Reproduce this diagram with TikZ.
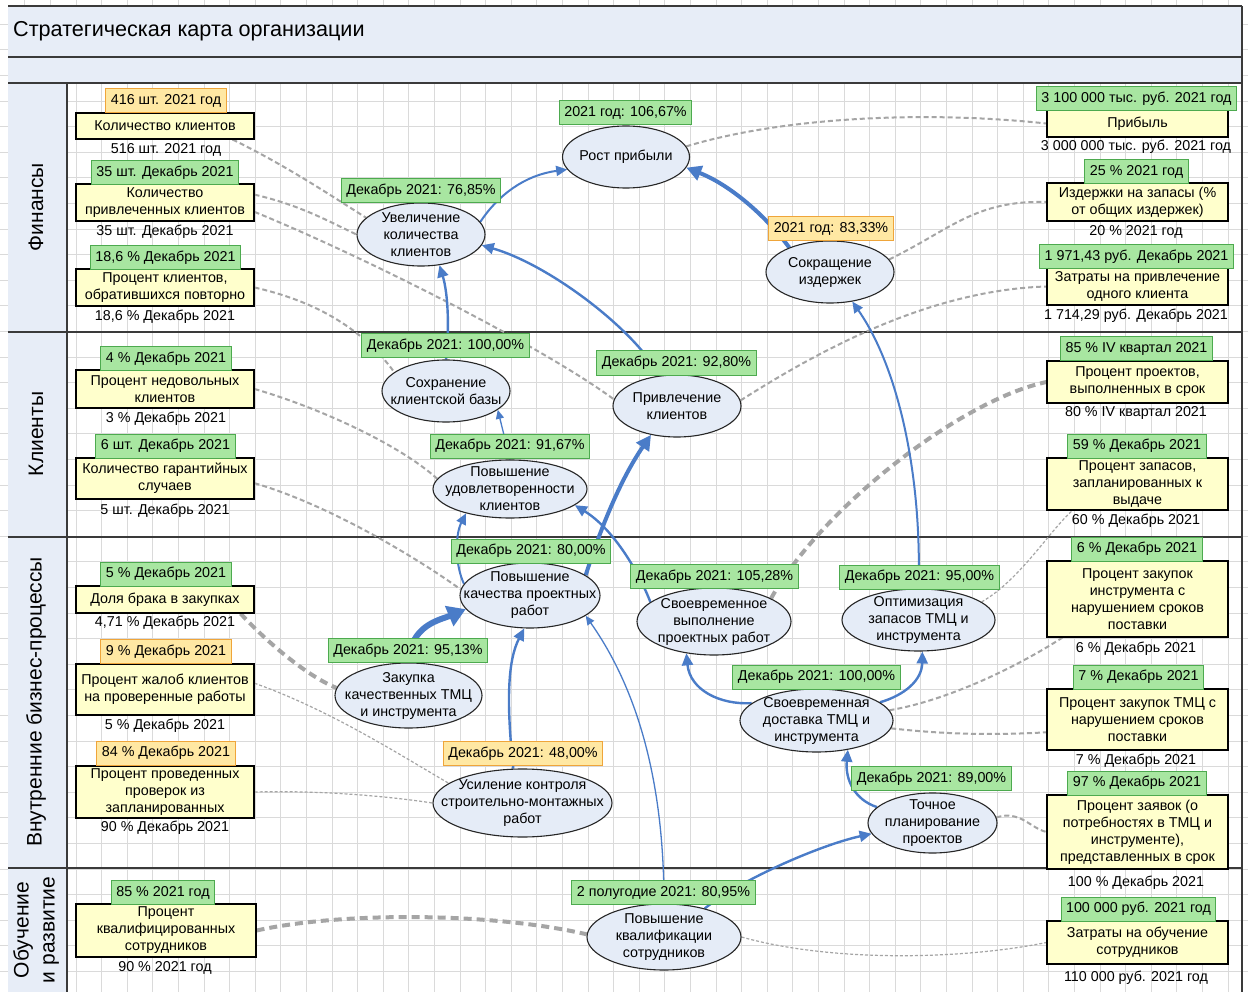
\documentclass[tikz,border=0pt]{standalone}
\usepackage{fontspec}
\setmainfont{Liberation Sans}
\usetikzlibrary{arrows.meta,shapes.geometric}
\definecolor{gridc}{HTML}{DADADA}
\definecolor{headfill}{HTML}{E7EDF7}
\definecolor{kpifill}{HTML}{FFFFCC}
\definecolor{tgfill}{HTML}{A8E6A1}
\definecolor{tgdraw}{HTML}{4DAA4F}
\definecolor{tofill}{HTML}{FFE8A3}
\definecolor{todraw}{HTML}{EFA53A}
\definecolor{goalfill}{HTML}{E5ECF7}
\definecolor{arrowc}{HTML}{4A7CC8}
\definecolor{dashc}{HTML}{A5A5A5}
\definecolor{linec}{HTML}{3A3A3A}
\newcommand\fs{\fontsize{14.3}{17}\selectfont}
\newcommand\fstitle{\fontsize{21.6}{25}\selectfont}
\newcommand\fslane{\fontsize{21}{26}\selectfont}
\pgfdeclarelayer{gridl}
\pgfdeclarelayer{links}
\pgfsetlayers{gridl,links,main}
\begin{document}
\begin{tikzpicture}[x=1pt,y=-1pt,
  kpi/.style={draw=black, line width=1.1pt, fill=kpifill, align=center, inner sep=0pt, font=\fs, minimum width=178pt},
  kpir/.style={kpi, minimum width=181pt},
  gtag/.style={draw=tgdraw, fill=tgfill, line width=1pt, inner xsep=5pt, inner ysep=0pt, minimum height=24pt, font=\fs},
  otag/.style={gtag, draw=todraw, fill=tofill},
  goal/.style={ellipse, draw=black!85, fill=goalfill, line width=1.1pt, inner sep=0pt},
  gtext/.style={align=center, font=\fs, inner sep=0pt},
  val/.style={font=\fs, inner sep=0pt},
  arr/.style={draw=arrowc, line width=2.4pt, -{Triangle[length=12pt,width=11pt]}},
  arrmid/.style={draw=arrowc, line width=2pt, -{Triangle[length=11pt,width=10pt]}},
  arrthin/.style={draw=arrowc, line width=1.3pt, -{Triangle[length=9pt,width=8pt]}},
  arrthick/.style={draw=arrowc, line width=4pt, -{Triangle[length=15pt,width=15pt]}},
  arrxthick/.style={draw=arrowc, line width=6pt, -{Triangle[length=18pt,width=21pt]}},
  lnk/.style={draw=dashc, line width=2pt, dash pattern=on 5pt off 3pt},
  lnkthick/.style={draw=dashc, line width=4pt, dash pattern=on 8pt off 5pt},
  lnkthin/.style={draw=dashc, line width=1.2pt, dash pattern=on 3pt off 2pt},
  lanelabel/.style={rotate=90, font=\fslane, align=center, inner sep=0pt},
  frameline/.style={draw=linec, line width=1.5pt},
  gridline/.style={draw=gridc, line width=0.8pt}
]
\useasboundingbox (0,0) rectangle (1248,992);
\begin{pgfonlayer}{gridl}
\fill[white] (0,0) rectangle (1248,992);
\foreach \i in {-2,...,45} \draw[gridline] ({76+25.6*\i},0) -- ({76+25.6*\i},992);
\foreach \i in {-3,...,36} \draw[gridline] (0,{75.4+25.6*\i}) -- (1248,{75.4+25.6*\i});
\fill[headfill] (8,6) rectangle (1242,83);
\fill[headfill] (8,83) rectangle (67,992);
\draw[frameline] (8,6) -- (1242,6);
\draw[frameline] (8,57) -- (1242,57);
\draw[frameline] (8,83) -- (1242,83);
\draw[frameline] (8,332) -- (1242,332);
\draw[frameline] (8,537) -- (1242,537);
\draw[frameline] (8,868) -- (1242,868);
\draw[frameline] (67,83) -- (67,992);
\draw[frameline] (1242,6) -- (1242,992);
\end{pgfonlayer}

% title and lanes
\node[anchor=west, font=\fstitle, inner sep=0pt] (title) at (13,31) {Стратегическая карта организации};
\node[lanelabel] (l1) at (36,207) {Финансы};
\node[lanelabel] (l2) at (36,434) {Клиенты};
\node[lanelabel] (l3) at (36,702) {Внутренние бизнес-процессы};
\node[lanelabel] (l4) at (36,930) {Обучение\\и развитие};

% left KPI boxes
\node[kpi, minimum height=26pt] (k1) at (165,126) {Количество клиентов};
\node[otag] (t1) at (166,101) {416 шт. 2021 год};
\node[val] (v1) at (166,150) {516 шт. 2021 год};
\node[kpi, minimum height=37pt] (k2) at (165,202.5) {Количество\\привлеченных клиентов};
\node[gtag] (t2) at (165,172.5) {35 шт. Декабрь 2021};
\node[val] (v2) at (165,232) {35 шт. Декабрь 2021};
\node[kpi, minimum height=37pt] (k3) at (165,287.5) {Процент клиентов,\\обратившихся повторно};
\node[gtag] (t3) at (165.5,257.5) {18,6 \% Декабрь 2021};
\node[val] (v3) at (165,317) {18,6 \% Декабрь 2021};
\node[kpi, minimum height=38pt] (k4) at (165,389) {Процент недовольных\\клиентов};
\node[gtag] (t4) at (166,358.5) {4 \% Декабрь 2021};
\node[val] (v4) at (166,419) {3 \% Декабрь 2021};
\node[kpi, minimum height=41pt] (k5) at (165,478.5) {Количество гарантийных\\случаев};
\node[gtag] (t5) at (165.5,446) {6 шт. Декабрь 2021};
\node[val] (v5) at (165,511) {5 шт. Декабрь 2021};
\node[kpi, minimum height=27pt] (k6) at (165,599.5) {Доля брака в закупках};
\node[gtag] (t6) at (166,574) {5 \% Декабрь 2021};
\node[val] (v6) at (165,623) {4,71 \% Декабрь 2021};
\node[kpi, minimum height=51pt] (k7) at (165,689.5) {Процент жалоб клиентов\\на проверенные работы};
\node[otag] (t7) at (166,651.5) {9 \% Декабрь 2021};
\node[val] (v7) at (165,726) {5 \% Декабрь 2021};
\node[kpi, minimum height=52pt] (k8) at (165,792) {Процент проведенных\\проверок из\\запланированных};
\node[otag] (t8) at (166,753) {84 \% Декабрь 2021};
\node[val] (v8) at (165,828) {90 \% Декабрь 2021};
\node[kpi, minimum width=180pt, minimum height=53pt] (k9) at (166,930.5) {Процент\\квалифицированных\\сотрудников};
\node[gtag] (t9) at (163,892.5) {85 \% 2021 год};
\node[val] (v9) at (165,968) {90 \% 2021 год};

% right KPI boxes
\node[kpir, minimum height=27pt] (r1) at (1137.5,123.5) {Прибыль};
\node[gtag] (rt1) at (1136.5,98.5) {3 100 000 тыс. руб. 2021 год};
\node[val] (rv1) at (1136,147) {3 000 000 тыс. руб. 2021 год};
\node[kpir, minimum height=38pt] (r2) at (1137.5,202) {Издержки на запасы (\%\\от общих издержек)};
\node[gtag] (rt2) at (1136.5,172) {25 \% 2021 год};
\node[val] (rv2) at (1136,232) {20 \% 2021 год};
\node[kpir, minimum height=37pt] (r3) at (1137.5,286.5) {Затраты на привлечение\\одного клиента};
\node[gtag] (rt3) at (1136.5,257) {1 971,43 руб. Декабрь 2021};
\node[val] (rv3) at (1136,316) {1 714,29 руб. Декабрь 2021};
\node[kpir, minimum height=42pt] (r4) at (1137.5,382) {Процент проектов,\\выполненных в срок};
\node[gtag] (rt4) at (1136.5,349) {85 \% IV квартал 2021};
\node[val] (rv4) at (1136,413) {80 \% IV квартал 2021};
\node[kpir, minimum height=52pt] (r5) at (1137.5,484) {Процент запасов,\\запланированных к\\выдаче};
\node[gtag] (rt5) at (1137,446) {59 \% Декабрь 2021};
\node[val] (rv5) at (1136,521) {60 \% Декабрь 2021};
\node[kpir, minimum height=76pt] (r6) at (1137.5,599) {Процент закупок\\инструмента с\\нарушением сроков\\поставки};
\node[gtag] (rt6) at (1137,549) {6 \% Декабрь 2021};
\node[val] (rv6) at (1136,649) {6 \% Декабрь 2021};
\node[kpir, minimum height=61pt] (r7) at (1137.5,719.5) {Процент закупок ТМЦ с\\нарушением сроков\\поставки};
\node[gtag] (rt7) at (1138.5,677) {7 \% Декабрь 2021};
\node[val] (rv7) at (1136,761) {7 \% Декабрь 2021};
\node[kpir, minimum height=74pt] (r8) at (1137.5,832) {Процент заявок (о\\потребностях в ТМЦ и\\инструменте),\\представленных в срок};
\node[gtag] (rt8) at (1137,783) {97 \% Декабрь 2021};
\node[val] (rv8) at (1136,883) {100 \% Декабрь 2021};
\node[kpir, minimum height=43pt] (r9) at (1137.5,942.5) {Затраты на обучение\\сотрудников};
\node[gtag] (rt9) at (1138.5,909) {100 000 руб. 2021 год};
\node[val] (rv9) at (1136,978) {110 000 руб. 2021 год};

% goals (ellipses)
\node[goal, minimum width=127pt, minimum height=62pt] (e1) at (626,157) {};
\node[goal, minimum width=128pt, minimum height=63pt] (e2) at (421,234.5) {};
\node[goal, minimum width=128pt, minimum height=62pt] (e3) at (830,272) {};
\node[goal, minimum width=128pt, minimum height=62pt] (e4) at (446,391) {};
\node[goal, minimum width=128pt, minimum height=62pt] (e5) at (677,406) {};
\node[goal, minimum width=154pt, minimum height=58pt] (e6) at (510,489) {};
\node[goal, minimum width=140pt, minimum height=65pt] (e7) at (530,595.5) {};
\node[goal, minimum width=154pt, minimum height=67pt] (e8) at (714,621.5) {};
\node[goal, minimum width=153pt, minimum height=62pt] (e9) at (918.5,620) {};
\node[goal, minimum width=147pt, minimum height=65pt] (e10) at (408.5,695.5) {};
\node[goal, minimum width=153pt, minimum height=63pt] (e11) at (816.5,720.5) {};
\node[goal, minimum width=179pt, minimum height=68pt] (e12) at (522.5,803) {};
\node[goal, minimum width=129pt, minimum height=60pt] (e13) at (932.5,823) {};
\node[goal, minimum width=154pt, minimum height=66pt] (e14) at (664,937) {};

\node[gtext] (e1t) at (e1) {Рост прибыли};
\node[gtext] (e2t) at (e2) {Увеличение\\количества\\клиентов};
\node[gtext] (e3t) at (e3) {Сокращение\\издержек};
\node[gtext] (e4t) at (e4) {Сохранение\\клиентской базы};
\node[gtext] (e5t) at (e5) {Привлечение\\клиентов};
\node[gtext] (e6t) at (e6) {Повышение\\удовлетворенности\\клиентов};
\node[gtext] (e7t) at (e7) {Повышение\\качества проектных\\работ};
\node[gtext] (e8t) at (e8) {Своевременное\\выполнение\\проектных работ};
\node[gtext] (e9t) at (e9) {Оптимизация\\запасов ТМЦ и\\инструмента};
\node[gtext] (e10t) at (e10) {Закупка\\качественных ТМЦ\\и инструмента};
\node[gtext] (e11t) at (e11) {Своевременная\\доставка ТМЦ и\\инструмента};
\node[gtext] (e12t) at (e12) {Усиление контроля\\строительно-монтажных\\работ};
\node[gtext] (e13t) at (e13) {Точное\\планирование\\проектов};
\node[gtext] (e14t) at (e14) {Повышение\\квалификации\\сотрудников};

% goal tags
\node[gtag] (g1) at (625.5,113) {2021 год: 106,67\%};
\node[gtag] (g2) at (421,190.5) {Декабрь 2021: 76,85\%};
\node[otag] (g3) at (831,228.5) {2021 год: 83,33\%};
\node[gtag] (g4) at (445.5,346) {Декабрь 2021: 100,00\%};
\node[gtag] (g5) at (676.5,363) {Декабрь 2021: 92,80\%};
\node[gtag] (g6) at (510,446) {Декабрь 2021: 91,67\%};
\node[gtag] (g7) at (531,551) {Декабрь 2021: 80,00\%};
\node[gtag] (g8) at (714.5,576.5) {Декабрь 2021: 105,28\%};
\node[gtag] (g9) at (919.5,577) {Декабрь 2021: 95,00\%};
\node[gtag] (g10) at (408,650.5) {Декабрь 2021: 95,13\%};
\node[gtag] (g11) at (816.5,677) {Декабрь 2021: 100,00\%};
\node[otag] (g12) at (523,753.5) {Декабрь 2021: 48,00\%};
\node[gtag] (g13) at (931.5,778.5) {Декабрь 2021: 89,00\%};
\node[gtag] (g14) at (663.5,892.5) {2 полугодие 2021: 80,95\%};

\begin{pgfonlayer}{links}
% dashed links KPI <-> goals
\draw[lnk] ([xshift=-22pt]k1.south east) .. controls (285,165) and (330,195) .. (e2.163);
\draw[lnk] (k2.5) .. controls (300,205) and (330,222) .. (e2.west);
\draw[lnk] (k2.-6) .. controls (360,255) and (540,345) .. (e5.174);
\draw[lnk] (k3.east) .. controls (310,300) and (360,325) .. (e4.160);
\draw[lnk] (k4.east) .. controls (320,408) and (400,445) .. (e6.172);
\draw[lnk] (k5.-3) .. controls (330,505) and (420,560) .. (e7.175);
\draw[lnkthick] ([xshift=-14pt]k6.south east) .. controls (265,640) and (305,675) .. (e10.174);
\draw[lnkthin] (k7.4) .. controls (330,710) and (400,755) .. (e12.165);
\draw[lnkthin] (k8.east) .. controls (330,790) and (400,798) .. (e12.west);
\draw[lnkthick] (k9.east) .. controls (340,912) and (490,912) .. (e14.178);
\draw[lnk] (e1.10) .. controls (780,118) and (920,110) .. (r1.west);
\draw[lnk] (e3.12) .. controls (950,230) and (975,200) .. (r2.west);
\draw[lnk] (e5.5) .. controls (820,350) and (930,290) .. (r3.west);
\draw[lnkthick] (e8.22) .. controls (820,510) and (960,400) .. (r4.west);
\draw[lnkthin] (e9.16) .. controls (1020,580) and (1050,530) .. ([xshift=26pt]r5.south west);
\draw[lnk] (e11.8) .. controls (950,700) and (1020,665) .. ([xshift=16pt]r6.south west);
\draw[lnk] (e11.-6) .. controls (950,735) and (1000,735) .. (r7.188);
\draw[lnk] (e13.5) .. controls (1020,810) and (1030,828) .. (r8.west);
\draw[lnkthin] (e14.east) .. controls (830,962) and (960,960) .. (r9.west);
% causal arrows between goals
\draw[arrmid] (e2.12) .. controls (498,195) and (525,175) .. (e1.192);
\draw[arrthick] (e3.149) .. controls (765,215) and (730,185) .. (e1.-10);
\draw[arr] (e4.north) .. controls (450,320) and (447,290) .. (e2.-59);
\draw[arr] (e5.120) .. controls (635,330) and (550,265) .. (e2.-10);
\draw[arrmid] (e9.north) .. controls (922,480) and (900,370) .. (e3.-53);
\draw[arrthin] (e6.north) -- (e4.-20);
\draw[arrmid] (e7.170) .. controls (455,565) and (455,535) .. (e6.209);
\draw[arrthick] (e7.20) .. controls (600,530) and (620,480) .. (e5.-132);
\draw[arr] (e8.163) .. controls (640,575) and (615,530) .. (e6.-14);
\draw[arrxthick] (e10.north) .. controls (410,625) and (440,620) .. (e7.192);
\draw[arr] (e12.105) .. controls (506,700) and (508,660) .. (e7.-100);
\draw[arrthin] (e14.north) .. controls (664,800) and (645,700) .. (e7.-20);
\draw[arr] (e11.165) .. controls (720,705) and (690,690) .. (e8.-131);
\draw[arr] (e11.16) .. controls (905,695) and (922,680) .. (e9.-83);
\draw[arr] (e13.164) .. controls (855,800) and (845,780) .. (e11.-43);
\draw[arr] (e14.35) .. controls (740,880) and (820,845) .. (e13.190);
\end{pgfonlayer}
\end{tikzpicture}
\end{document}
